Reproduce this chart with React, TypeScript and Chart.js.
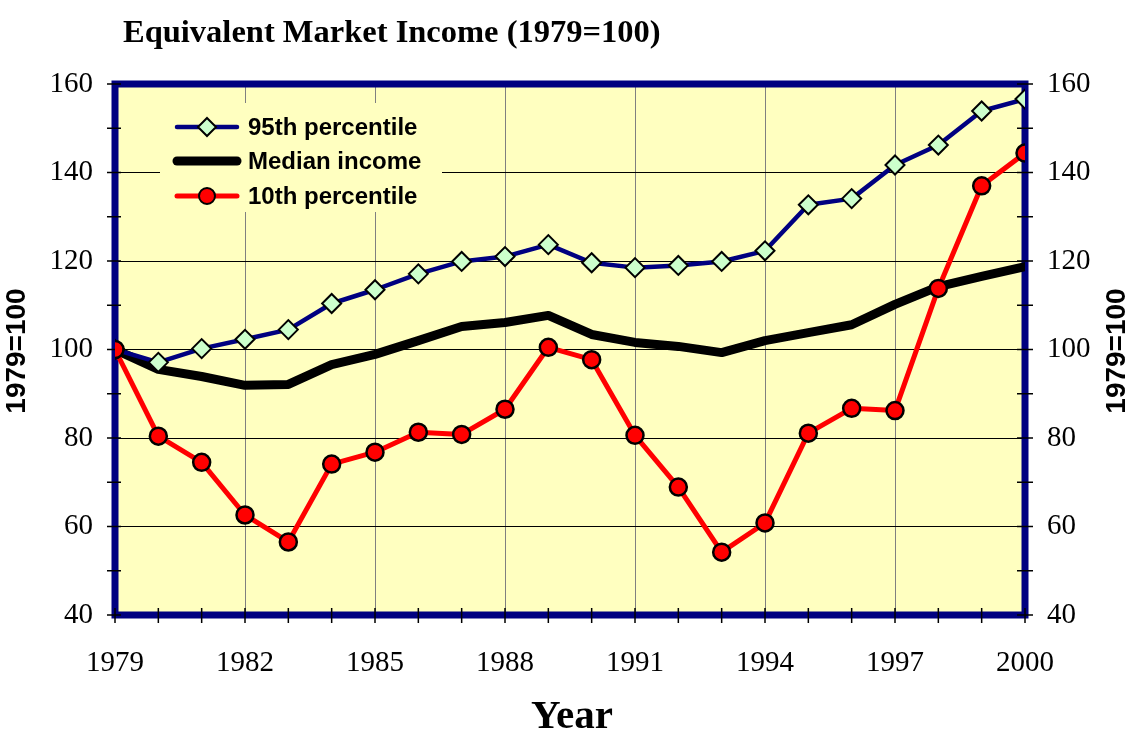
import React, { useEffect, useRef } from "react";
import { Chart, registerables } from "chart.js";
Chart.register(...registerables);

const years = [1979, 1980, 1981, 1982, 1983, 1984, 1985, 1986, 1987, 1988, 1989, 1990, 1991, 1992, 1993, 1994, 1995, 1996, 1997, 1998, 1999, 2000];
const p95 = [100, 97.1, 100.2, 102.3, 104.5, 110.4, 113.5, 117.1, 119.9, 121.0, 123.7, 119.6, 118.5, 119.0, 119.9, 122.3, 132.7, 134.1, 141.7, 146.2, 153.9, 156.6];
const median = [100, 95.5, 93.9, 91.9, 92.1, 96.6, 98.9, 102.0, 105.2, 106.1, 107.7, 103.4, 101.6, 100.7, 99.3, 102.0, 103.8, 105.6, 110.2, 114.2, 116.5, 118.7];
const p10 = [100, 80.4, 74.5, 62.6, 56.5, 74.1, 76.8, 81.3, 80.8, 86.5, 100.5, 97.7, 80.6, 68.9, 54.2, 60.8, 81.1, 86.7, 86.2, 113.8, 137.0, 144.4];
const seriesNames = ["95th percentile", "Median income", "10th percentile"];
const chartTitle = "Equivalent Market Income (1979=100)";
const xTitle = "Year";
const yTitle = "1979=100";

const NAVY = "#000080";
const YELLOW = "#FFFFC0";

const decor = {
  id: "decor",
  beforeDraw(chart: any) {
    const { ctx, chartArea: a } = chart;
    ctx.save();
    ctx.fillStyle = "#ffffff";
    ctx.fillRect(0, 0, chart.width, chart.height);
    ctx.fillStyle = YELLOW;
    ctx.fillRect(a.left, a.top, a.right - a.left, a.bottom - a.top);
    ctx.restore();
  },
  beforeDatasetsDraw(chart: any) {
    const { ctx, chartArea: a, scales } = chart;
    ctx.save();
    // legend box (covers gridlines)
    const lx = 160, ly = 103, lw = 282, lh = 109;
    ctx.fillStyle = YELLOW;
    ctx.fillRect(lx, ly, lw, lh);
    // border
    ctx.strokeStyle = NAVY;
    ctx.lineWidth = 7;
    ctx.strokeRect(a.left, a.top, a.right - a.left, a.bottom - a.top);
    // ticks
    ctx.strokeStyle = "#000";
    ctx.lineWidth = 1.5;
    ctx.beginPath();
    for (const yr of years) {
      const x = scales.x.getPixelForValue(yr);
      ctx.moveTo(x, a.bottom - 7);
      ctx.lineTo(x, a.bottom + 8);
    }
    for (let v = 40; v <= 160; v += 10) {
      const y = scales.y.getPixelForValue(v);
      ctx.moveTo(a.left - 8, y);
      ctx.lineTo(a.left + 6, y);
      ctx.moveTo(a.right - 8, y);
      ctx.lineTo(a.right + 8, y);
    }
    ctx.stroke();
    // legend entries
    const rows = [127, 161, 196];
    const x0 = 177, x1 = 237, xm = 207;
    ctx.lineCap = "round";
    ctx.strokeStyle = NAVY; ctx.lineWidth = 4.5;
    ctx.beginPath(); ctx.moveTo(x0, rows[0]); ctx.lineTo(x1, rows[0]); ctx.stroke();
    ctx.fillStyle = "#CCFFCC"; ctx.strokeStyle = "#000"; ctx.lineWidth = 2;
    ctx.beginPath();
    ctx.moveTo(xm, rows[0] - 9); ctx.lineTo(xm + 9, rows[0]); ctx.lineTo(xm, rows[0] + 9); ctx.lineTo(xm - 9, rows[0]); ctx.closePath();
    ctx.fill(); ctx.stroke();
    ctx.strokeStyle = "#000"; ctx.lineWidth = 9;
    ctx.beginPath(); ctx.moveTo(x0, rows[1]); ctx.lineTo(x1, rows[1]); ctx.stroke();
    ctx.strokeStyle = "#FF0000"; ctx.lineWidth = 5;
    ctx.beginPath(); ctx.moveTo(x0, rows[2]); ctx.lineTo(x1, rows[2]); ctx.stroke();
    ctx.fillStyle = "#FF0000"; ctx.strokeStyle = "#000"; ctx.lineWidth = 2;
    ctx.beginPath(); ctx.arc(xm, rows[2], 8, 0, Math.PI * 2); ctx.fill(); ctx.stroke();
    ctx.fillStyle = "#000";
    ctx.font = "bold 24px 'Liberation Sans', Arial, sans-serif";
    ctx.textBaseline = "middle";
    ctx.textAlign = "left";
    seriesNames.forEach((n, i) => ctx.fillText(n, 248, rows[i] + 1));
    ctx.restore();
  },
  afterDraw(chart: any) {
    const { ctx } = chart;
    ctx.save();
    ctx.fillStyle = "#000";
    ctx.textBaseline = "middle";
    ctx.textAlign = "left";
    ctx.font = "bold 32.5px 'Liberation Serif', 'Times New Roman', serif";
    ctx.fillText(chartTitle, 123, 34);
    ctx.textAlign = "center";
    ctx.font = "bold 41px 'Liberation Serif', 'Times New Roman', serif";
    ctx.fillText(xTitle, 572, 717);
    ctx.font = "bold 28px 'Liberation Sans', Arial, sans-serif";
    for (const cx of [17, 1117]) {
      ctx.save();
      ctx.translate(cx, 351);
      ctx.rotate(-Math.PI / 2);
      ctx.fillText(yTitle, 0, 0);
      ctx.restore();
    }
    ctx.restore();
  },
};

export default function App() {
  const ref = useRef<HTMLCanvasElement>(null);
  useEffect(() => {
    if (!ref.current) return;
    const tickFont = { family: "'Liberation Serif', 'Times New Roman', serif", size: 29 };
    const chart = new Chart(ref.current, {
      type: "line",
      data: {
        datasets: [
          {
            label: seriesNames[2],
            data: years.map((x, i) => ({ x, y: p10[i] })),
            borderColor: "#FF0000",
            borderWidth: 5,
            pointStyle: "circle",
            pointRadius: 8.5,
            pointBackgroundColor: "#FF0000",
            pointBorderColor: "#000",
            pointBorderWidth: 2.5,
            order: 0,
          },
          {
            label: seriesNames[0],
            data: years.map((x, i) => ({ x, y: p95[i] })),
            borderColor: NAVY,
            borderWidth: 4.5,
            pointStyle: "rectRot",
            pointRadius: 9.5,
            pointBackgroundColor: "#CCFFCC",
            pointBorderColor: "#000",
            pointBorderWidth: 2,
            order: 1,
          },
          {
            label: seriesNames[1],
            data: years.map((x, i) => ({ x, y: median[i] })),
            borderColor: "#000",
            borderWidth: 9,
            pointRadius: 0,
            order: 2,
          },
        ],
      },
      options: {
        animation: false,
        responsive: false,
        events: [],
        layout: { padding: { top: 84, left: 0, right: 0, bottom: 0 } },
        plugins: { legend: { display: false }, tooltip: { enabled: false }, title: { display: false } },
        elements: { line: { tension: 0, borderJoinStyle: "round", borderCapStyle: "round" } },
        scales: {
          x: {
            type: "linear",
            min: 1979,
            max: 2000,
            afterFit: (s: any) => { s.height = 125; },
            ticks: { stepSize: 3, color: "#000", font: tickFont, padding: 31, callback: (v: any) => String(v) },
            grid: { color: "#808080", lineWidth: 1, drawTicks: false },
            border: { display: false },
          },
          y: {
            position: "left",
            min: 40,
            max: 160,
            afterFit: (s: any) => { s.width = 115; },
            ticks: { stepSize: 20, color: "#000", font: tickFont, padding: 22 },
            grid: { color: "#000", lineWidth: 1, drawTicks: false },
            border: { display: false },
          },
          y2: {
            position: "right",
            min: 40,
            max: 160,
            afterFit: (s: any) => { s.width = 101; },
            ticks: { stepSize: 20, color: "#000", font: tickFont, padding: 22 },
            grid: { display: false, drawTicks: false },
            border: { display: false },
          },
        },
      },
      plugins: [decor],
    } as any);
    return () => chart.destroy();
  }, []);
  return (
    <div style={{ position: "absolute", left: 0, top: 0, width: 1126, height: 740 }}>
      <canvas ref={ref} width={1126} height={740} style={{ display: "block" }} />
    </div>
  );
}
